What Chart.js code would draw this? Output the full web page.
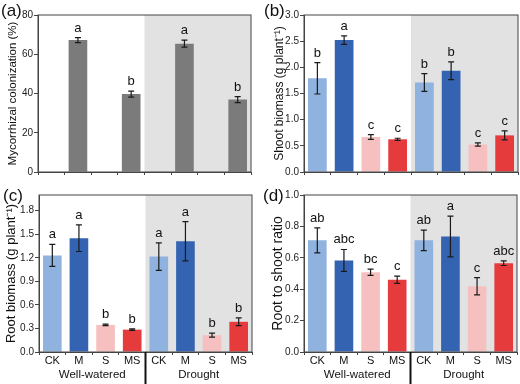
<!DOCTYPE html>
<html>
<head>
<meta charset="utf-8">
<script src="https://cdn.jsdelivr.net/npm/chart.js@4"></script>
<style>
  body { margin: 0; background: #fff; width: 520px; height: 384px; position: relative; overflow: hidden;
         font-family: "Liberation Sans", Arial, sans-serif; }
  canvas { position: absolute; }
  .tag { position: absolute; font-size: 17px; line-height: 1; color: #111; }
</style>
</head>
<body>
<canvas id="chartA" width="260" height="180" style="left:0;top:0"></canvas>
<canvas id="chartB" width="260" height="180" style="left:260px;top:0"></canvas>
<canvas id="chartC" width="260" height="204" style="left:0;top:180px"></canvas>
<canvas id="chartD" width="260" height="204" style="left:260px;top:180px"></canvas>
<div class="tag" style="left:1px;top:2px">(a)</div>
<div class="tag" style="left:264px;top:2px">(b)</div>
<div class="tag" style="left:3px;top:187px">(c)</div>
<div class="tag" style="left:263px;top:187px">(d)</div>
<script>
// Treatments and water regimes
const categories = ['CK', 'M', 'S', 'MS', 'CK', 'M', 'S', 'MS'];
const groups = ['Well-watered', 'Drought'];

// (a) mycorrhizal colonization, only inoculated treatments
const colonization = [null, 67.2, null, 39.7, null, 65.4, null, 36.9];
const colonizationErr = [null, 1.3, null, 1.5, null, 1.8, null, 1.5];
const colonizationLetters = ['', 'a', '', 'b', '', 'a', '', 'b'];
const colonizationTicks = [0, 20, 40, 60, 80];

// (b) shoot biomass
const shootBiomass = [1.79, 2.52, 0.67, 0.625, 1.71, 1.935, 0.525, 0.70];
const shootErr = [0.30, 0.08, 0.045, 0.02, 0.17, 0.17, 0.03, 0.085];
const shootLetters = ['b', 'a', 'c', 'c', 'b', 'b', 'c', 'c'];
const shootTicks = [0, 0.5, 1.0, 1.5, 2.0, 2.5, 3.0];

// (c) root biomass
const rootBiomass = [1.23, 1.45, 0.345, 0.285, 1.215, 1.41, 0.215, 0.385];
const rootErr = [0.14, 0.17, 0.01, 0.01, 0.175, 0.25, 0.025, 0.05];
const rootLetters = ['a', 'a', 'b', 'b', 'a', 'a', 'b', 'b'];
const rootTicks = [0, 0.3, 0.6, 0.9, 1.2, 1.5, 1.8];

// (d) root to shoot ratio
const ratio = [0.711, 0.583, 0.508, 0.46, 0.711, 0.736, 0.419, 0.566];
const ratioErr = [0.08, 0.07, 0.02, 0.023, 0.065, 0.13, 0.055, 0.015];
const ratioLetters = ['ab', 'abc', 'bc', 'c', 'ab', 'a', 'c', 'abc'];
const ratioTicks = [0, 0.2, 0.4, 0.6, 0.8, 1.0];

const treatmentColors = ['#8fb2df', '#3463b1', '#f6c0c1', '#e53b3d'];
const FONT = '"Liberation Sans", Arial, sans-serif';

// shaded drought half, error bars, letters, frame
const panelDecor = {
  id: 'panelDecor',
  beforeDatasetsDraw(chart) {
    const { ctx, chartArea: a, scales: { x } } = chart;
    const mid = (x.getPixelForTick(3) + x.getPixelForTick(4)) / 2;
    ctx.save();
    ctx.fillStyle = '#e2e2e2';
    ctx.fillRect(mid, a.top, a.right - mid, a.bottom - a.top);
    ctx.restore();
  },
  afterDatasetsDraw(chart, args, opts) {
    const { ctx, chartArea: a, scales: { x, y } } = chart;
    const meta = chart.getDatasetMeta(0);
    const values = chart.data.datasets[0].data;
    ctx.save();
    ctx.strokeStyle = '#1a1a1a';
    ctx.lineWidth = 1.2;
    ctx.fillStyle = '#111';
    ctx.font = '13px ' + FONT;
    ctx.textAlign = 'center';
    ctx.textBaseline = 'alphabetic';
    values.forEach((v, i) => {
      if (v == null) return;
      const e = opts.errors[i];
      const cx = meta.data[i].x;
      const hi = y.getPixelForValue(v + e);
      const lo = y.getPixelForValue(v - e);
      ctx.beginPath();
      ctx.moveTo(cx, hi); ctx.lineTo(cx, lo);
      ctx.moveTo(cx - 3, hi); ctx.lineTo(cx + 3, hi);
      ctx.moveTo(cx - 3, lo); ctx.lineTo(cx + 3, lo);
      ctx.stroke();
      ctx.fillText(opts.letters[i], cx, hi - 6);
    });
    ctx.strokeStyle = '#444';
    ctx.lineWidth = 1;
    ctx.strokeRect(a.left, a.top, a.right - a.left, a.bottom - a.top);
    if (opts.separator) {
      const mid = (x.getPixelForTick(3) + x.getPixelForTick(4)) / 2;
      ctx.strokeStyle = '#111';
      ctx.lineWidth = 2;
      ctx.beginPath();
      ctx.moveTo(mid, a.bottom);
      ctx.lineTo(mid, chart.height);
      ctx.stroke();
    }
    ctx.restore();
  }
};

function makeChart(id, cfg) {
  const scales = {
    x: {
      type: 'category',
      grid: { offset: true, drawOnChartArea: false, drawTicks: true, tickLength: 3, color: '#444' },
      border: { color: '#444', width: 1 },
      ticks: { display: cfg.showLabels, color: '#111', padding: 0,
               font: { size: 11, family: FONT, lineHeight: 1 } },
      afterFit: s => { s.height = cfg.xHeight; }
    },
    y: {
      min: 0,
      max: cfg.yMax,
      afterBuildTicks: s => { s.ticks = cfg.ticks.map(v => ({ value: v })); },
      afterFit: s => { s.width = cfg.yWidth; },
      grid: { drawOnChartArea: false, drawTicks: true, tickLength: 4, color: '#444' },
      border: { color: '#444', width: 1 },
      ticks: { color: '#222', padding: 1, font: { size: 10, family: FONT },
               callback: v => v.toFixed(cfg.decimals) },
      title: { display: true, text: cfg.title, color: '#111',
               font: { size: cfg.titleSize, family: FONT }, padding: { top: cfg.titlePad, bottom: 0 } }
    }
  };
  if (cfg.showLabels) {
    scales.x2 = {
      type: 'category',
      labels: groups,
      position: 'bottom',
      offset: true,
      grid: { display: false, drawTicks: false },
      border: { display: false },
      ticks: { color: '#111', padding: 0, font: { size: 11.5, family: FONT, lineHeight: 1 } },
      afterFit: s => { s.height = 15; }
    };
  }
  return new Chart(document.getElementById(id), {
    type: 'bar',
    data: {
      labels: categories,
      datasets: [{
        data: cfg.values,
        backgroundColor: cfg.colors,
        barPercentage: 0.7,
        categoryPercentage: 1
      }]
    },
    options: {
      responsive: false,
      animation: false,
      layout: { padding: { top: 15, right: cfg.padRight, left: 0, bottom: 0 } },
      plugins: {
        legend: { display: false },
        tooltip: { enabled: false },
        panelDecor: { errors: cfg.errors, letters: cfg.letters, separator: cfg.showLabels }
      },
      scales
    },
    plugins: [panelDecor]
  });
}

const treatmentFill = categories.map((c, i) => treatmentColors[i % 4]);

makeChart('chartA', {
  values: colonization, errors: colonizationErr, letters: colonizationLetters,
  ticks: colonizationTicks, yMax: 80, decimals: 0,
  colors: categories.map(() => '#7b7b7b'),
  title: 'Mycorrhizal colonization (%)', titleSize: 11.5, titlePad: 6,
  yWidth: 38, padRight: 9, xHeight: 8, showLabels: false
});

makeChart('chartB', {
  values: shootBiomass, errors: shootErr, letters: shootLetters,
  ticks: shootTicks, yMax: 3.0, decimals: 1, colors: treatmentFill,
  title: 'Shoot biomass (g plant\u207B\u00B9)', titleSize: 12, titlePad: 12,
  yWidth: 44, padRight: 2, xHeight: 8, showLabels: false
});

makeChart('chartC', {
  values: rootBiomass, errors: rootErr, letters: rootLetters,
  ticks: rootTicks, yMax: 2.0, decimals: 1, colors: treatmentFill,
  title: 'Root biomass (g plant\u207B\u00B9)', titleSize: 13, titlePad: 4,
  yWidth: 39, padRight: 8, xHeight: 17, showLabels: true
});

makeChart('chartD', {
  values: ratio, errors: ratioErr, letters: ratioLetters,
  ticks: ratioTicks, yMax: 1.0, decimals: 1, colors: treatmentFill,
  title: 'Root to shoot ratio', titleSize: 14, titlePad: 10,
  yWidth: 44, padRight: 3, xHeight: 17, showLabels: true
});
</script>
</body>
</html>
